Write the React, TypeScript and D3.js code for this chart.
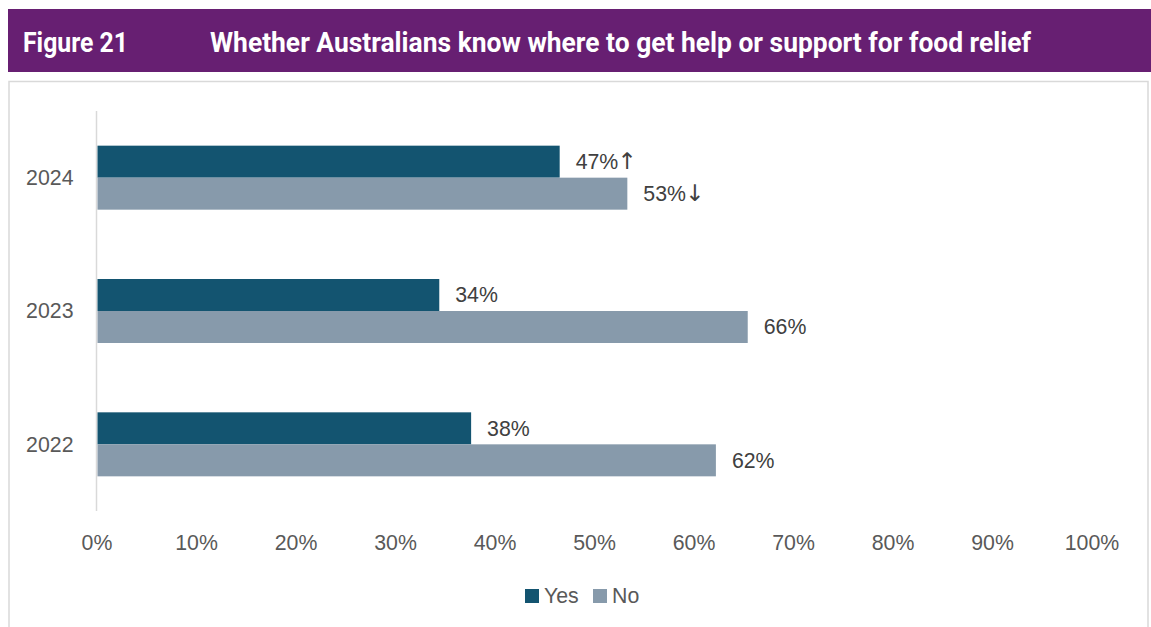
import React, { useEffect, useRef } from 'react';
import * as d3 from 'd3';

const years = ['2024', '2023', '2022'];
const yesValues = [0.465, 0.344, 0.376];
const noValues = [0.533, 0.654, 0.622];
const yesLabels = ['47%', '34%', '38%'];
const noLabels = ['53%', '66%', '62%'];
const yesArrows = ['↑', '', ''];
const noArrows = ['↓', '', ''];
const ticks = [0, 0.1, 0.2, 0.3, 0.4, 0.5, 0.6, 0.7, 0.8, 0.9, 1];
const seriesNames = ['Yes', 'No'];
const colors = ['#135470', '#879aab'];

const W = 1151;
const H = 627;
const FONT = '"Liberation Sans", Arial, sans-serif';
const FS = 21.3;

export default function App() {
  const ref = useRef<SVGSVGElement>(null);

  useEffect(() => {
    const svg = d3.select(ref.current);
    svg.selectAll('*').remove();

    // header band
    svg.append('rect').attr('x', 8).attr('y', 9).attr('width', W - 8).attr('height', 63).attr('fill', '#671f72');
    svg.append('text').attr('x', 23).attr('y', 52).attr('fill', '#fff')
      .attr('font-family', 'Roboto, sans-serif').attr('font-weight', 700).attr('font-size', 27.5)
      .attr('textLength', 105).attr('lengthAdjust', 'spacingAndGlyphs')
      .text('Figure 21');
    svg.append('text').attr('x', 210).attr('y', 52).attr('fill', '#fff')
      .attr('font-family', 'Roboto, sans-serif').attr('font-weight', 700).attr('font-size', 27.5)
      .attr('textLength', 821).attr('lengthAdjust', 'spacingAndGlyphs')
      .text('Whether Australians know where to get help or support for food relief');

    // chart frame
    svg.append('rect').attr('x', 9).attr('y', 81.5).attr('width', 1139).attr('height', 600)
      .attr('fill', 'none').attr('stroke', '#d9d9d9').attr('stroke-width', 1.5);

    const x = d3.scaleLinear().domain([0, 1]).range([97, 1092]);
    const y = d3.scaleBand().domain(years).range([111, 511]).paddingInner(0.52).paddingOuter(0.26);
    const sub = d3.scaleBand().domain(seriesNames).range([0, y.bandwidth()]);

    // y axis line
    svg.append('line').attr('x1', 96.5).attr('x2', 96.5).attr('y1', 111).attr('y2', 511)
      .attr('stroke', '#d9d9d9').attr('stroke-width', 1.5);

    // x tick labels
    svg.append('g').selectAll('text').data(ticks).enter().append('text')
      .attr('x', d => x(d)).attr('y', 549.5).attr('text-anchor', 'middle')
      .attr('font-family', FONT).attr('font-size', FS).attr('fill', '#595959')
      .text(d => d3.format('.0%')(d));

    // year labels
    svg.append('g').selectAll('text').data(years).enter().append('text')
      .attr('x', 73.5).attr('y', d => (y(d) as number) + y.bandwidth() / 2).attr('dy', '0.35em')
      .attr('text-anchor', 'end').attr('font-family', FONT).attr('font-size', FS).attr('fill', '#595959')
      .text(d => d);

    const series = [
      { name: 'Yes', values: yesValues, labels: yesLabels, arrows: yesArrows },
      { name: 'No', values: noValues, labels: noLabels, arrows: noArrows },
    ];

    series.forEach((s, si) => {
      const g = svg.append('g');
      g.selectAll('rect').data(years).enter().append('rect')
        .attr('x', x(0) + 0.5)
        .attr('y', d => (y(d) as number) + (sub(s.name) as number))
        .attr('width', (d, i) => x(s.values[i]) - x(0) - 0.5)
        .attr('height', sub.bandwidth())
        .attr('fill', colors[si]);

      const t = g.selectAll('text.lbl').data(years).enter().append('text')
        .attr('class', 'lbl')
        .attr('x', (d, i) => x(s.values[i]) + 16)
        .attr('y', d => (y(d) as number) + (sub(s.name) as number) + sub.bandwidth() / 2)
        .attr('dy', '0.35em')
        .attr('font-family', FONT).attr('font-size', FS).attr('fill', '#404040');
      t.append('tspan').text((d, i) => s.labels[i]);
      t.append('tspan').attr('font-family', '"DejaVu Sans", sans-serif').attr('font-size', 23)
        .attr('fill', '#404040').attr('dx', -1)
        .text((d, i) => s.arrows[i]);
    });

    // legend
    const legend = svg.append('g');
    const lx = [525, 593];
    seriesNames.forEach((n, i) => {
      legend.append('rect').attr('x', lx[i]).attr('y', 589).attr('width', 14).attr('height', 14).attr('fill', colors[i]);
      legend.append('text').attr('x', lx[i] + 19).attr('y', 596).attr('dy', '0.35em')
        .attr('font-family', FONT).attr('font-size', FS).attr('fill', '#595959').text(n);
    });
  }, []);

  return (
    <svg ref={ref} width={W} height={H}
      style={{ position: 'fixed', left: 0, top: 0, background: '#fff', display: 'block' }} />
  );
}
